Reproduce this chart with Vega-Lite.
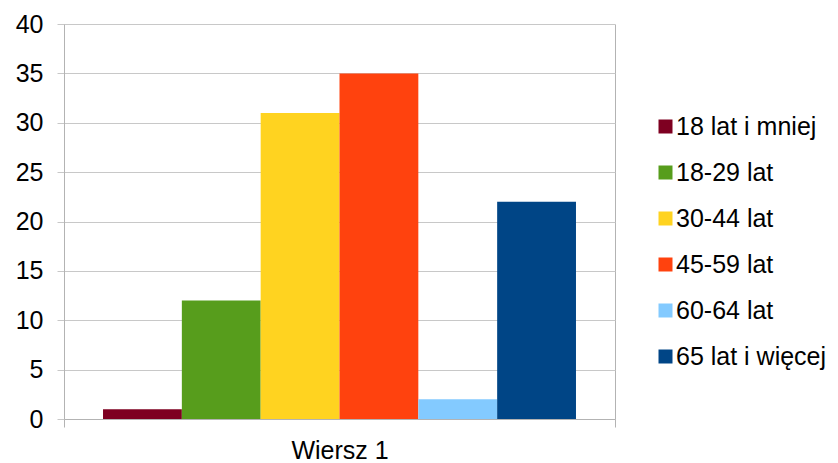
{
  "$schema": "https://vega.github.io/schema/vega-lite/v6.json",
  "autosize": "none",
  "width": 551,
  "height": 395,
  "padding": {"left": 64, "top": 24, "right": 223, "bottom": 44},
  "background": "white",
  "config": {
    "view": {"stroke": null},
    "font": "Liberation Sans",
    "axis": {"labelFont": "Liberation Sans", "labelColor": "#000000"}
  },
  "data": {
    "values": [
      {"row": "Wiersz 1", "group": "18 lat i mniej", "value": 1},
      {"row": "Wiersz 1", "group": "18-29 lat", "value": 12},
      {"row": "Wiersz 1", "group": "30-44 lat", "value": 31},
      {"row": "Wiersz 1", "group": "45-59 lat", "value": 35},
      {"row": "Wiersz 1", "group": "60-64 lat", "value": 2},
      {"row": "Wiersz 1", "group": "65 lat i więcej", "value": 22}
    ]
  },
  "mark": {"type": "bar"},
  "encoding": {
    "x": {
      "field": "row",
      "type": "nominal",
      "scale": {"paddingInner": 0, "paddingOuter": 0},
      "axis": {
        "title": null,
        "labelAngle": 0,
        "labelFontSize": 25,
        "labelPadding": 11,
        "tickBand": "extent",
        "tickSize": 8,
        "tickColor": "#b3b3b3",
        "grid": true,
        "gridColor": "#b3b3b3",
        "domainColor": "#b3b3b3"
      }
    },
    "xOffset": {
      "field": "group",
      "type": "nominal",
      "sort": ["18 lat i mniej", "18-29 lat", "30-44 lat", "45-59 lat", "60-64 lat", "65 lat i więcej"],
      "scale": {"paddingInner": 0, "paddingOuter": 0.495}
    },
    "y": {
      "field": "value",
      "type": "quantitative",
      "scale": {"domain": [0, 40]},
      "axis": {
        "title": null,
        "values": [0, 5, 10, 15, 20, 25, 30, 35, 40],
        "labelFontSize": 25,
        "labelPadding": 14,
        "tickSize": 7,
        "tickColor": "#c8c8c8",
        "gridColor": "#c8c8c8",
        "domainColor": "#b3b3b3"
      }
    },
    "color": {
      "field": "group",
      "type": "nominal",
      "sort": ["18 lat i mniej", "18-29 lat", "30-44 lat", "45-59 lat", "60-64 lat", "65 lat i więcej"],
      "scale": {
        "domain": ["18 lat i mniej", "18-29 lat", "30-44 lat", "45-59 lat", "60-64 lat", "65 lat i więcej"],
        "range": ["#7E0021", "#579D1C", "#FFD320", "#FF420E", "#83CAFF", "#004586"]
      },
      "legend": {
        "title": null,
        "orient": "none",
        "legendX": 589,
        "legendY": 90,
        "padding": 0,
        "symbolType": "square",
        "symbolSize": 196,
        "symbolStrokeWidth": 0,
        "labelFontSize": 25,
        "labelFont": "Liberation Sans",
        "labelColor": "#000000",
        "labelOffset": -2,
        "rowPadding": 20,
        "labelLimit": 300
      }
    }
  }
}
